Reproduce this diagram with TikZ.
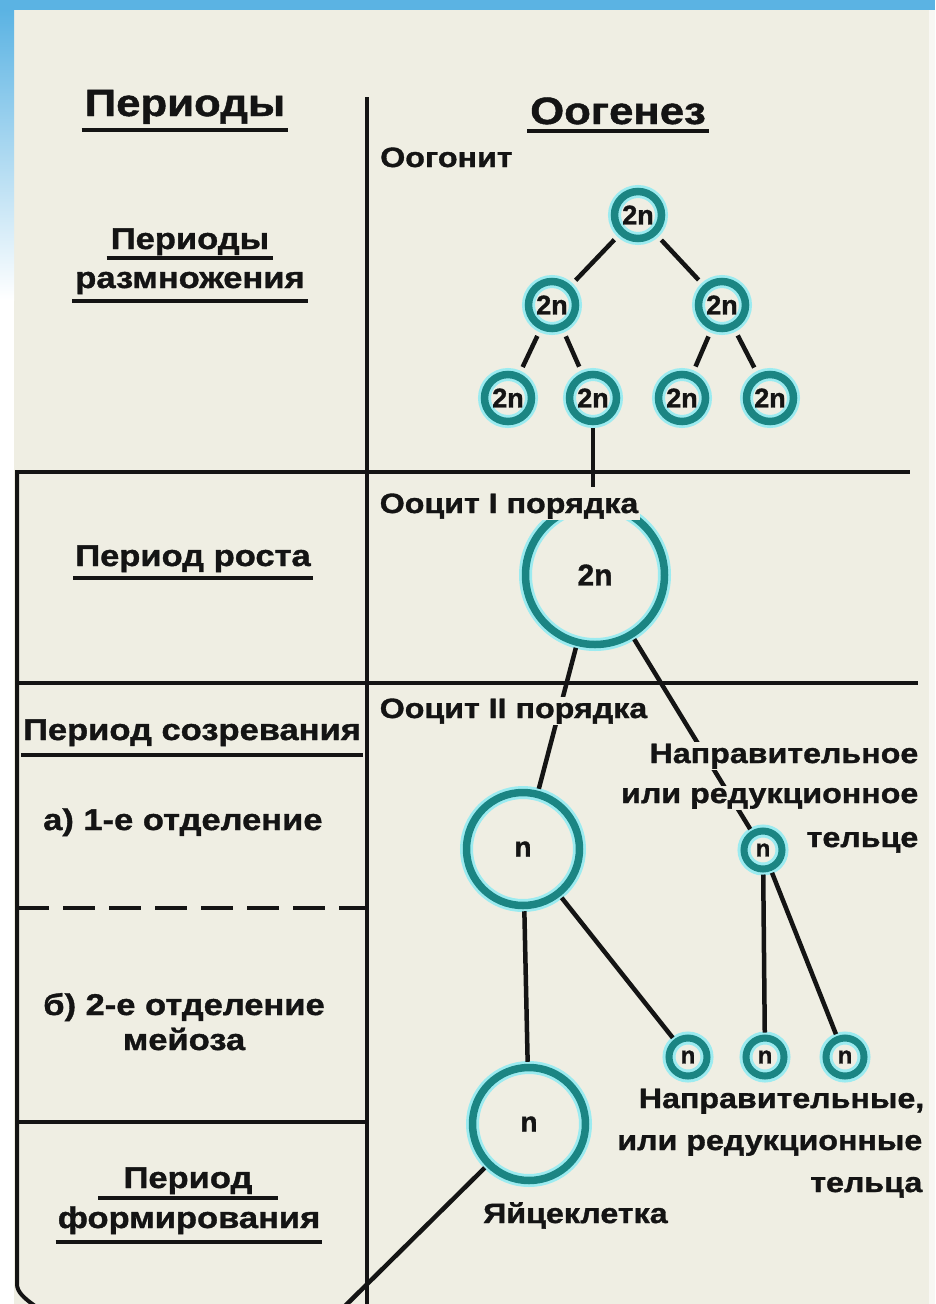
\documentclass[tikz,border=0pt]{standalone}
\usepackage{fontspec}
\setmainfont{Liberation Sans}[FakeStretch=1.15, FakeBold=1.2]
\newfontfamily\cellfont{Liberation Sans}[FakeBold=1.2]
\newcommand\fsz[1]{\fontsize{#1}{#1}\selectfont\bfseries}
\newcommand\csz[1]{\cellfont\fontsize{#1}{#1}\selectfont\bfseries}
\definecolor{bg}{HTML}{EFEEE3}
\definecolor{ringcol}{HTML}{1B8583}
\definecolor{glowcol}{HTML}{9CEBF0}
\definecolor{ink}{HTML}{141414}
\definecolor{sky}{HTML}{5BB3E3}
\tikzset{
  cell/.style={circle, draw=ringcol, line width=7.5pt, inner sep=0pt, text=ink,
    preaction={draw=glowcol, line width=13pt}},
  smallcell/.style={cell, minimum size=47pt, font=\csz{27}},
  tinycell/.style={cell, minimum size=38pt, line width=7pt, font=\csz{24},
    preaction={draw=glowcol, line width=12pt}},
  bigcell/.style={cell, minimum size=139pt, font=\csz{30}},
  midcell/.style={cell, minimum size=113pt, font=\csz{28}},
  link/.style={draw=ink, line width=4.5pt, shorten <=2pt, shorten >=2pt},
  treelink/.style={draw=ink, line width=4.5pt, shorten <=7pt, shorten >=7pt},
  rule/.style={draw=ink, line width=4pt},
  uline/.style={draw=ink, line width=4pt},
  ttl/.style={inner sep=0pt, text=ink, font=\fsz{38}, anchor=base},
  side/.style={inner sep=0pt, text=ink, font=\fsz{30}, anchor=base},
  lab/.style={inner sep=0pt, text=ink, font=\fsz{28}},
  cover/.style={fill=bg, inner sep=1.5pt},
}
\begin{document}
\begin{tikzpicture}[x=1pt,y=-1pt]
\useasboundingbox (0,0) rectangle (935,1304);
% background
\fill[bg] (0,0) rectangle (935,1304);
\fill[sky] (0,0) rectangle (935,10);
\shade[top color=sky, bottom color=white] (0,10) rectangle (14,300);
\fill[white] (0,300) rectangle (14,1304);
\fill[white!55!bg] (929,10) rectangle (935,1304);

% table rules
\draw[rule] (367,97) -- (367,1304);
\draw[rule] (15,472) -- (910,472);
\draw[rule] (17,683) -- (918,683);
\draw[rule] (17,472) -- (17,1284) .. controls (17,1292) and (24,1298) .. (35,1306);
\draw[rule, dash pattern=on 32pt off 14pt] (17,908) -- (365,908);
\draw[rule] (17,1122) -- (367,1122);

% cells
\node[smallcell] (o1) at (638,215) {2n};
\node[smallcell] (o2) at (552,305) {2n};
\node[smallcell] (o3) at (722,305) {2n};
\node[smallcell] (o4) at (508,398) {2n};
\node[smallcell] (o5) at (593,398) {2n};
\node[smallcell] (o6) at (682,398) {2n};
\node[smallcell] (o7) at (770,398) {2n};
\coordinate (t1) at (593,487);
\node[bigcell] (c1) at (595,575) {2n};
\node[midcell] (c2) at (523,849) {n};
\node[tinycell] (p1) at (763,850) {n};
\node[tinycell] (p2) at (688,1057) {n};
\node[tinycell] (p3) at (765,1057) {n};
\node[tinycell] (p4) at (845,1057) {n};
\node[midcell] (c3) at (529,1124) {n};
\coordinate (e1) at (345,1306);

% connectors
\draw[treelink] (o1) -- (o2);
\draw[treelink] (o1) -- (o3);
\draw[treelink] (o2) -- (o4);
\draw[treelink] (o2) -- (o5);
\draw[treelink] (o3) -- (o6);
\draw[treelink] (o3) -- (o7);
\draw[link, shorten <=3pt, shorten >=0pt] (o5) -- (t1);
\draw[link] (c1) -- (c2);
\draw[link] (c1) -- (p1);
\draw[link] (p1) -- (p3);
\draw[link] (p1) -- (p4);
\draw[link] (c2) -- (c3);
\draw[link] (c2) -- (p2);
\draw[link, shorten >=0pt] (c3) -- (e1);

% headings
\node[ttl] (h1) at (185,116) {Периоды};
\draw[uline] ([xshift=-3pt,yshift=-14pt]h1.base west) -- ([xshift=3pt,yshift=-14pt]h1.base east);
\node[ttl] (h2) at (618,124) {Оогенез};
\draw[uline] ([xshift=-3pt,yshift=-7pt]h2.base west) -- ([xshift=3pt,yshift=-7pt]h2.base east);

% left column
\node[side] (a1) at (190,249) {Периоды};
\draw[uline] ([xshift=-4pt,yshift=-9pt]a1.base west) -- ([xshift=4pt,yshift=-9pt]a1.base east);
\node[side] (a2) at (190,288) {размножения};
\draw[uline] ([xshift=-3pt,yshift=-13pt]a2.base west) -- ([xshift=3pt,yshift=-13pt]a2.base east);
\node[side] (b1) at (193,566) {Период роста};
\draw[uline] ([xshift=-2pt,yshift=-12pt]b1.base west) -- ([xshift=2pt,yshift=-12pt]b1.base east);
\node[side] (d1) at (192,740) {Период созревания};
\draw[uline] ([xshift=-2pt,yshift=-15pt]d1.base west) -- ([xshift=2pt,yshift=-15pt]d1.base east);
\node[side, anchor=base west] (d2) at (43,830) {а) 1-е отделение};
\node[side] (d3) at (184,1015) {б) 2-е отделение};
\node[side] (d4) at (184,1050) {мейоза};
\node[side] (f1) at (188,1188) {Период};
\draw[uline] ([xshift=-25pt,yshift=-10pt]f1.base west) -- ([xshift=25pt,yshift=-10pt]f1.base east);
\node[side] (f2) at (189,1228) {формирования};
\draw[uline] ([xshift=-2pt,yshift=-14pt]f2.base west) -- ([xshift=2pt,yshift=-14pt]f2.base east);

% right column labels
\node[lab, anchor=base west] (r1) at (380,167) {Оогонит};
\node[lab, cover, anchor=base west] (r2) at (378,513) {Ооцит I порядка};
\node[lab, cover, anchor=base west] (r3) at (378,718) {Ооцит II порядка};
\node[lab, cover, anchor=base east] (r4) at (920,763) {Направительное};
\node[lab, cover, anchor=base east] (r5) at (920,803) {или редукционное};
\node[lab, cover, anchor=base east] (r6) at (920,847) {тельце};
\node[lab, cover, anchor=base east] (r7) at (926,1108) {Направительные,};
\node[lab, cover, anchor=base east] (r8) at (924,1150) {или редукционные};
\node[lab, cover, anchor=base east] (r9) at (924,1192) {тельца};
\node[lab, anchor=base west] (r10) at (483,1223) {Яйцеклетка};
\end{tikzpicture}
\end{document}
